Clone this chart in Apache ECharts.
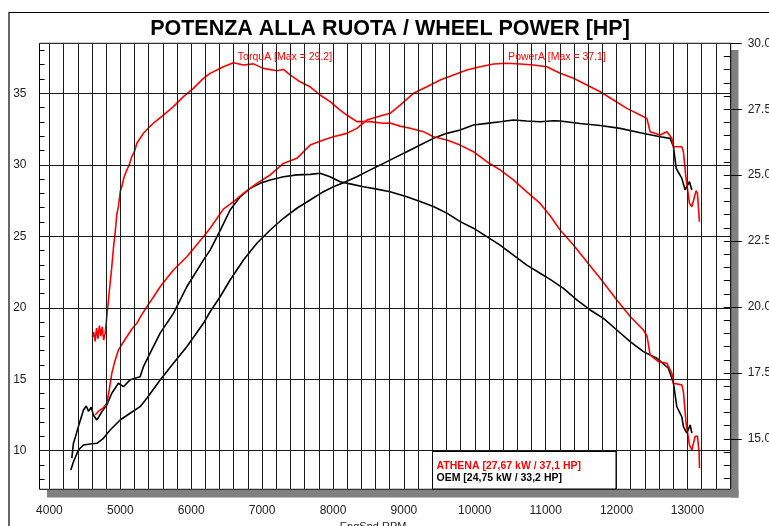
<!DOCTYPE html>
<html><head><meta charset="utf-8">
<script src="https://cdn.jsdelivr.net/npm/echarts@6/dist/echarts.min.js"></script>
<style>html,body{margin:0;padding:0;background:#fff}#c{width:769px;height:526px}</style>
</head><body><div id="c"></div>
<script>
// ---- tick labels / grid values ----
const xTickLabels = [4000,5000,6000,7000,8000,9000,10000,11000,12000,13000];
const xGridRpm = [4000,4200,4400,4600,4800,5000,5200,5400,5600,5800,6000,6200,6400,6600,6800,7000,7200,7400,7600,7800,8000,8200,8400,8600,8800,9000,9200,9400,9600,9800,10000,10200,10400,10600,10800,11000,11200,11400,11600,11800,12000,12200,12400,12600,12800,13000,13200,13400,13600];
const leftTickLabels = [10,15,20,25,30,35];
const leftMinorTicks = [8,9,10,11,12,13,14,15,16,17,18,19,20,21,22,23,24,25,26,27,28,29,30,31,32,33,34,35,36,37,38];
const rightTickLabels = [15,17.5,20,22.5,25,27.5,30];
const rightMinorTicks = [13.5,14,14.5,15,15.5,16,16.5,17,17.5,18,18.5,19,19.5,20,20.5,21,21.5,22,22.5,23,23.5,24,24.5,25,25.5,26,26.5,27,27.5,28,28.5,29,29.5];

// ---- ATHENA power [HP] (left axis) ----
const athenaPowerRpm = [4645,4700,4760,4810,4845,4880,4925,4973,5030,5092,5160,5233,5300,5374,5460,5562,5749,5938,6172,6267,6454,6596,6737,6926,7114,7301,7490,7677,7865,8006,8195,8336,8477,8665,8806,8947,9135,9324,9512,9700,9888,10076,10264,10452,10640,10828,11016,11204,11392,11581,11769,11957,12145,12333,12427,12474,12615,12709,12780,12803,12921,12943,12977,13028,13062,13122,13141,13169];
const athenaPowerHp = [12.5,12.8,13.0,13.32,14.3,15.41,16.3,17.04,17.5,17.97,18.5,18.91,19.5,20.07,20.7,21.47,22.64,23.57,24.97,25.56,26.9,27.42,28.0,28.7,29.29,30.1,30.45,31.38,31.73,31.96,32.2,32.55,33.13,33.41,33.6,34.18,35.0,35.46,35.93,36.28,36.63,36.86,37.05,37.1,37.05,36.98,36.86,36.4,36.05,35.58,35.11,34.53,33.95,33.48,33.25,32.31,32.08,32.31,31.85,31.26,31.26,30.91,29.17,27.31,27.07,28.19,28.0,26.02];

// ---- ATHENA torque [Nm] (right axis) ----
const athenaTorqueRpm = [4606,4625,4645,4665,4685,4705,4725,4745,4765,4786,4810,4845,4880,4905,4927,4950,4973,5000,5021,5050,5092,5120,5162,5200,5233,5280,5326,5400,5467,5608,5749,5890,6031,6172,6267,6454,6596,6737,6878,7019,7208,7301,7395,7536,7677,7818,7959,8100,8195,8336,8519,8711,8806,8947,9088,9276,9417,9606,9794,9981,10170,10357,10545,10734,10922,11063,11204,11392,11581,11769,12004,12192,12379,12430,12474,12591,12709,12780,12803,12921,12943,12981,13028,13062,13108,13141,13165,13170];
const athenaTorqueNm = [18.85,19.05,18.7,19.2,18.8,19.3,18.9,19.25,18.75,19.0,19.64,20.6,21.53,22.3,22.81,23.5,23.81,24.4,24.56,24.9,25.2,25.35,25.7,25.9,26.21,26.4,26.59,26.8,26.97,27.28,27.6,27.98,28.29,28.67,28.86,29.11,29.26,29.18,29.22,29.05,28.96,29.01,28.8,28.54,28.35,28.04,27.79,27.47,27.28,27.03,27.03,26.97,26.98,26.86,26.78,26.65,26.46,26.33,26.14,25.89,25.51,25.2,24.82,24.37,23.93,23.46,22.92,22.35,21.72,21.09,20.27,19.64,19.13,18.9,18.18,17.93,17.87,17.49,17.11,17.05,16.79,15.59,14.77,14.58,15.09,15.11,14.46,13.89];

// ---- OEM power [HP] (left axis) ----
const oemPowerRpm = [4302,4339,4409,4480,4574,4669,4762,4856,4997,5138,5279,5374,5562,5749,5938,6172,6267,6408,6549,6737,6926,7114,7301,7490,7677,7865,8006,8147,8336,8519,8665,8853,9041,9229,9417,9606,9794,9981,10170,10357,10545,10734,10922,11110,11204,11486,11769,12051,12333,12615,12756,12803,12841,12921,12967,13028,13062];
const oemPowerHp = [8.65,9.23,10.05,10.4,10.47,10.52,10.87,11.45,12.15,12.62,13.08,13.67,14.95,16.11,17.27,18.91,19.72,20.77,21.94,23.34,24.51,25.44,26.26,26.96,27.54,28.12,28.47,28.75,29.17,29.63,29.98,30.45,30.91,31.38,31.85,32.2,32.43,32.78,32.9,33.01,33.13,33.06,33.01,33.08,33.06,32.89,32.75,32.55,32.24,31.96,31.85,31.26,29.75,29.05,28.24,28.82,28.24];

// ---- OEM torque [Nm] (right axis) ----
const oemTorqueRpm = [4316,4339,4380,4409,4480,4520,4550,4590,4621,4669,4700,4739,4810,4880,4973,5044,5138,5279,5326,5420,5562,5749,5938,6172,6267,6408,6549,6690,6831,6972,7114,7301,7490,7677,7818,7959,8100,8241,8430,8618,8806,9041,9229,9417,9606,9794,9981,10170,10357,10545,10734,10922,11063,11251,11439,11627,11815,12004,12192,12379,12568,12732,12803,12850,12921,12943,12991,13038,13062];
const oemTorqueNm = [14.27,14.84,15.2,15.47,16.1,16.25,16.05,16.2,15.9,15.72,15.85,16.03,16.29,16.73,17.11,16.98,17.24,17.36,17.74,18.25,19.01,19.76,20.77,21.78,22.16,22.9,23.68,24.18,24.5,24.69,24.82,24.94,25.01,25.03,25.07,24.94,24.75,24.67,24.56,24.47,24.37,24.18,24.0,23.81,23.56,23.24,22.99,22.67,22.35,21.97,21.59,21.28,21.05,20.71,20.27,19.89,19.57,19.13,18.69,18.31,18.06,17.68,17.11,16.22,15.84,15.47,15.22,15.53,15.22];

const FONT = "'Liberation Sans', Arial, sans-serif";
const RED = '#ff0000';
const zip = (a, b) => a.map((v, i) => [v, b[i]]);

const chart = echarts.init(document.getElementById('c'), null, {renderer: 'canvas'});
chart.setOption({
  animation: false,
  backgroundColor: '#fff',
  textStyle: {fontFamily: FONT},
  grid: {left: 39.5, right: 38.3, top: 43.3, bottom: 36.7, show: true, borderColor: '#000', borderWidth: 1,
    backgroundColor: 'transparent', containLabel: false, outerBoundsMode: 'none'},
  xAxis: {
    type: 'value', min: 3860, max: 13610,
    axisLine: {show: false}, axisTick: {show: false}, splitLine: {show: false},
    axisLabel: {customValues: xTickLabels, fontSize: 12, color: '#222', margin: 15, fontFamily: FONT,
      formatter: v => String(v)},
    name: 'EngSpd RPM', nameLocation: 'middle', nameGap: 30,
    nameTextStyle: {fontSize: 11, color: '#222', fontFamily: FONT, padding: [0, 24, 0, 0]}
  },
  yAxis: [
    {
      type: 'value', position: 'left', min: 7.3, max: 38.5,
      axisLine: {show: false}, splitLine: {show: false},
      axisTick: {show: true, inside: true, length: 5, customValues: leftMinorTicks, lineStyle: {color: '#000'}},
      axisLabel: {customValues: leftTickLabels, fontSize: 12, color: '#222', margin: 13, fontFamily: FONT,
        formatter: v => String(v)}
    },
    {
      type: 'value', position: 'right', min: 13.09, max: 30,
      axisLine: {show: false}, splitLine: {show: false},
      axisTick: {show: true, inside: false, length: 11, customValues: rightTickLabels, lineStyle: {color: '#000'}},
      axisLabel: {customValues: rightTickLabels, fontSize: 12, color: '#222', margin: 17, fontFamily: FONT,
        formatter: v => Number(v).toFixed(1)}
    },
    {
      type: 'value', position: 'right', min: 13.09, max: 30,
      axisLine: {show: false}, splitLine: {show: false},
      axisTick: {show: true, inside: true, length: 7, customValues: rightMinorTicks, lineStyle: {color: '#000'}},
      axisLabel: {show: false}
    }
  ],
  series: [
    {
      name: 'grid', type: 'line', xAxisIndex: 0, yAxisIndex: 0, z: 1,
      data: zip(oemPowerRpm, oemPowerHp), showSymbol: false, silent: true,
      lineStyle: {opacity: 0},
      markLine: {
        silent: true, symbol: ['none', 'none'], label: {show: false}, animation: false,
        lineStyle: {color: '#1a1a1a', width: 1, type: 'solid'},
        emphasis: {disabled: true},
        data: xGridRpm.map(v => ({xAxis: v})).concat(leftTickLabels.map(v => ({yAxis: v})))
      }
    },
    {name: 'OEM power', type: 'line', xAxisIndex: 0, yAxisIndex: 0, z: 3, showSymbol: false, silent: true,
      data: zip(oemPowerRpm, oemPowerHp), lineStyle: {color: '#000', width: 1.6}},
    {name: 'OEM torque', type: 'line', xAxisIndex: 0, yAxisIndex: 1, z: 3, showSymbol: false, silent: true,
      data: zip(oemTorqueRpm, oemTorqueNm), lineStyle: {color: '#000', width: 1.6}},
    {name: 'ATHENA power', type: 'line', xAxisIndex: 0, yAxisIndex: 0, z: 4, showSymbol: false, silent: true,
      data: zip(athenaPowerRpm, athenaPowerHp), lineStyle: {color: RED, width: 1.6}},
    {name: 'ATHENA torque', type: 'line', xAxisIndex: 0, yAxisIndex: 1, z: 4, showSymbol: false, silent: true,
      data: zip(athenaTorqueRpm, athenaTorqueNm), lineStyle: {color: RED, width: 1.6}}
  ],
  graphic: [
    {type: 'rect', z: -10, shape: {x: 9, y: 12.5, width: 800, height: 600}, style: {fill: 'none', stroke: '#000', lineWidth: 1.2}},
    {type: 'rect', z: -5, shape: {x: 731, y: 50, width: 7.5, height: 447.5}, style: {fill: '#808080'}},
    {type: 'rect', z: -5, shape: {x: 47, y: 490, width: 691.5, height: 7.5}, style: {fill: '#808080'}},
    {type: 'text', z: 50, x: 390, y: 29.5, style: {text: 'POTENZA ALLA RUOTA / WHEEL POWER [HP]', fill: '#000', font: 'bold 21.5px ' + FONT, textAlign: 'center', textVerticalAlign: 'middle'}},
    {type: 'text', z: 50, x: 285, y: 57, style: {text: 'TorquA [Max = 29.2]', fill: RED, font: '10.5px ' + FONT, textAlign: 'center', textVerticalAlign: 'middle'}},
    {type: 'text', z: 50, x: 557, y: 57, style: {text: 'PowerA [Max = 37.1]', fill: RED, font: '10.5px ' + FONT, textAlign: 'center', textVerticalAlign: 'middle'}},
    {type: 'rect', z: 50, shape: {x: 432.5, y: 451.5, width: 183.5, height: 37.5}, style: {fill: '#fff', stroke: '#000', lineWidth: 1}},
    {type: 'text', z: 51, x: 436.5, y: 466, style: {text: 'ATHENA [27,67 kW / 37,1 HP]', fill: RED, font: 'bold 10.5px ' + FONT, textAlign: 'left', textVerticalAlign: 'middle'}},
    {type: 'text', z: 51, x: 436.5, y: 478, style: {text: 'OEM [24,75 kW / 33,2 HP]', fill: '#000', font: 'bold 10.5px ' + FONT, textAlign: 'left', textVerticalAlign: 'middle'}}
  ]
});
</script>
</body></html>
